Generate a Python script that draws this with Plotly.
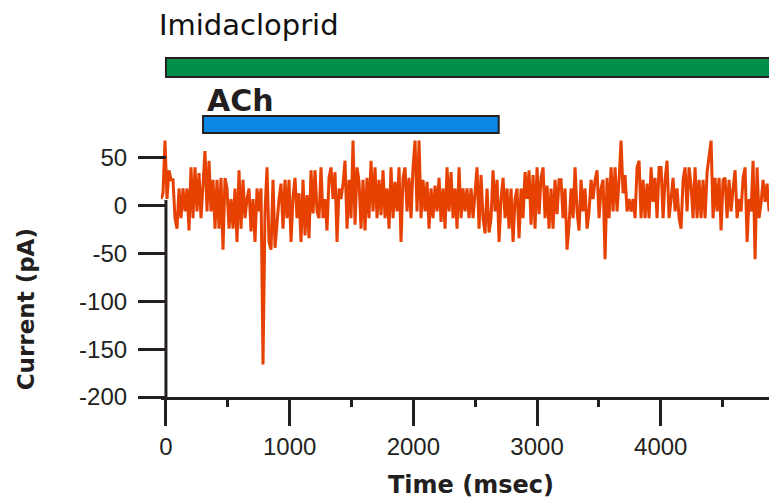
import plotly.graph_objects as go

# ---- data ----
t_start_ms = -40.0
sample_interval_ms = 16.17
current_pA = [
    # 0-49
    7, 13, 68, 7, 37, 27, 27, -13, -24, 18, -13, 18, -6, 18, -26, 40, -13, 40, -6, 34,
    -13, 27, 57, -6, 47, -6, 27, -24, 27, -24, 29, -46, 29, 18, -24, 7, -24, 18, -38, 37,
    -24, 27, -13, 7, 18, -27, 7, -38, 18, -6,
    # 50-99
    18, -166, -6, 40, -38, -46, 27, -44, -13, 7, 23, -24, 27, -13, 27, -38, 9, 29, -13, 13,
    -38, 27, -31, 11, -34, 37, -8, 37, -6, -13, 40, -13, 7, -26, 29, 40, 7, 35, -38, 18,
    7, 23, 47, -24, 27, -13, 68, -20, 40, 25,
    # 100-149
    -24, 27, -26, 29, -13, 47, -6, 40, -13, 27, -10, 37, -13, 18, -24, 40, -13, 25, -6, 40,
    -38, 29, 40, -6, 29, -13, 40, 68, -6, 68, -13, 27, -6, 25, -24, 18, -13, 21, -6, 29,
    -17, 18, -24, 40, -6, 35, -13, 18, -24, 40,
    # 150-199
    -13, 18, -6, 18, -13, 18, -13, 18, 40, -24, 32, -13, -29, 18, -28, -13, 37, -6, 27, -38,
    7, 29, -13, 18, -24, 18, -38, 7, 18, -34, 18, -13, 35, 7, 37, -20, 32, -24, 40, -9,
    29, 40, -13, 21, -24, 18, -24, 27, -9, 27,
    # 200-249
    27, -13, 18, -46, -20, 18, -13, 40, -6, -26, 27, -6, 18, -24, -6, 27, 7, 27, 37, -13,
    18, 27, -56, 29, -13, 40, -6, 40, -6, 27, 68, 13, 32, -6, 7, -6, 7, -13, 40, 47,
    -13, 27, -13, 23, -13, 40, 4, 29, -13, 40,
    # 250-304
    40, -13, 27, 47, -13, 7, 29, -6, 18, -13, -24, 27, 40, -6, 40, 21, -13, 40, -13, 27,
    -13, 27, -13, 35, 55, 68, -13, 29, -6, 29, -26, 27, 29, -13, 27, -6, 18, 37, -13, 7,
    -6, 29, 40, -38, 7, -6, 47, -56, 40, -13, 3, 27, 4, 23, -6,
]
time_ms = [t_start_ms + i * sample_interval_ms for i in range(len(current_pA))]

drug_names = ["Imidacloprid", "ACh"]
drug_start_ms = [0, 300]
drug_end_ms = [4950, 2690]
drug_colors = ["#008f48", "#0a88e3"]

y_tick_vals = [50, 0, -50, -100, -150, -200]
y_tick_text = ["50", "0", "-50", "-100", "-150", "-200"]
x_tick_vals = [0, 1000, 2000, 3000, 4000]
x_tick_text = ["0", "1000", "2000", "3000", "4000"]

# ---- layout constants ----
X_RANGE = [-40, 4875]
Y_RANGE = [-200, 215]
INK = "#231f20"
TRACE_COLOR = "#e64100"
TICK_FONT = dict(family="Liberation Sans, Arial", size=24, color=INK)

fig = go.Figure()
fig.add_trace(go.Scatter(
    x=time_ms, y=current_pA, mode="lines",
    line=dict(color=TRACE_COLOR, width=3),
    hoverinfo="skip", showlegend=False,
))

# drug application bars
bar_y = [(134.5, 154.4), (76.0, 93.7)]
label_y = [189, 110]
label_xshift = [-9, 39]   # pixels relative to time 0
label_font = [dict(family="DejaVu Sans", size=29, color="#111111", weight=500),
              dict(family="DejaVu Sans", size=30, color=INK, weight="bold")]
for i, name in enumerate(drug_names):
    fig.add_shape(type="rect", xref="x", yref="y",
                  x0=drug_start_ms[i], x1=drug_end_ms[i],
                  y0=bar_y[i][0], y1=bar_y[i][1],
                  fillcolor=drug_colors[i], line=dict(color=INK, width=2))
    fig.add_annotation(x=0, y=label_y[i], xref="x", yref="y", xshift=label_xshift[i],
                       text=name, showarrow=False, xanchor="left", yanchor="middle",
                       font=label_font[i])

# y axis line (only the lower part is drawn in the reference)
fig.add_shape(type="line", xref="x", yref="y", x0=0, x1=0, y0=6, y1=-200,
              line=dict(color=INK, width=3))

y_pos = (0 - X_RANGE[0]) / (X_RANGE[1] - X_RANGE[0])

fig.update_layout(
    width=769, height=500,
    margin=dict(l=161, r=0, t=0, b=103),
    plot_bgcolor="white", paper_bgcolor="white",
    xaxis=dict(
        range=X_RANGE, showgrid=False, zeroline=False, automargin=False,
        showline=True, linecolor=INK, linewidth=3,
        tickmode="array", tickvals=x_tick_vals, ticktext=x_tick_text,
        ticks="outside", ticklen=26, tickwidth=3, tickcolor=INK,
        tickfont=TICK_FONT,
        minor=dict(dtick=500, tick0=0, ticks="outside", ticklen=7, tickwidth=3, tickcolor=INK),
    ),
    yaxis=dict(
        range=Y_RANGE, showgrid=False, zeroline=False, showline=False, automargin=False,
        anchor="free", position=y_pos,
        tickmode="array", tickvals=y_tick_vals, ticktext=y_tick_text,
        ticks="outside", ticklen=28, tickwidth=3, tickcolor=INK,
        tickfont=TICK_FONT, ticklabelstandoff=6,
    ),
    annotations=list(fig.layout.annotations) + [
        dict(text="Time (msec)", xref="paper", yref="paper", x=0.51, y=-0.222,
             showarrow=False, xanchor="center", yanchor="middle",
             font=dict(family="DejaVu Sans", size=24, color=INK, weight="bold")),
        dict(text="Current (pA)", xref="paper", yref="paper", x=-0.223, y=0.222,
             showarrow=False, xanchor="center", yanchor="middle", textangle=-90,
             font=dict(family="DejaVu Sans", size=23, color=INK, weight="bold")),
    ],
)

fig.write_html("out.html", config={"displayModeBar": False},
               post_script="document.body.style.margin='0';")
